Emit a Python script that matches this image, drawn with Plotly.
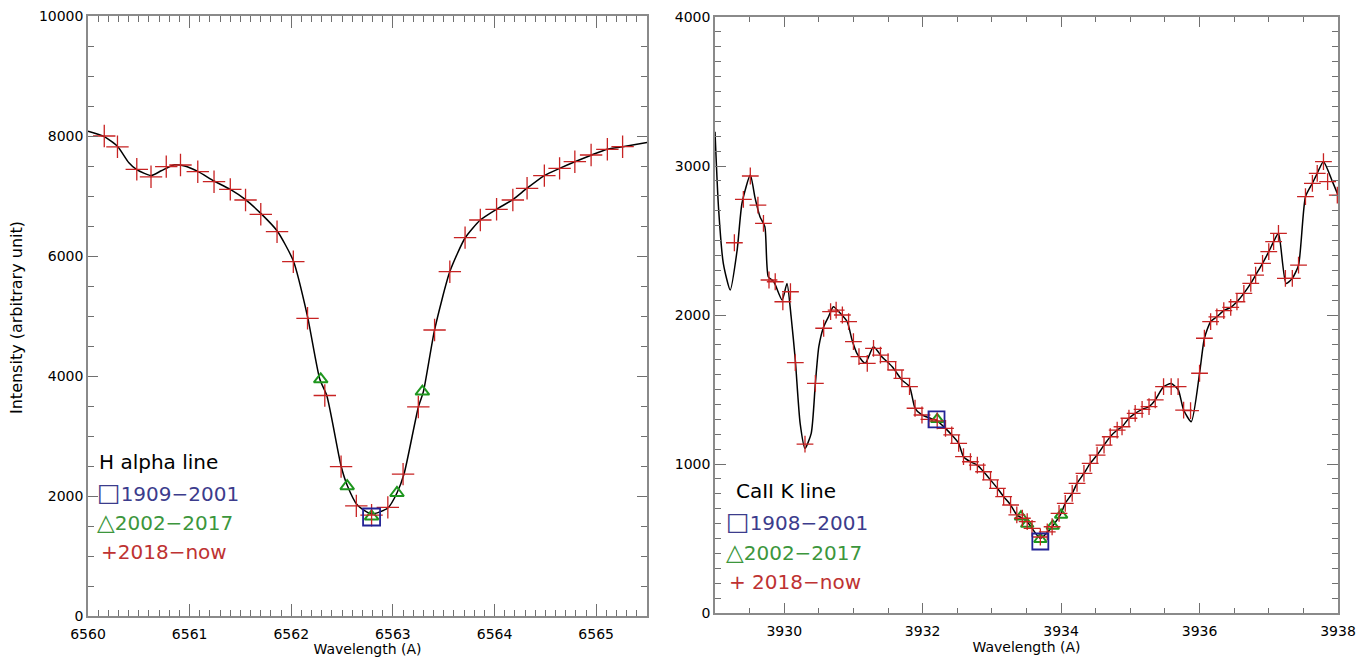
import plotly.graph_objects as go
from plotly.subplots import make_subplots

# ---- H alpha line (left panel) ----
ha_curve_x = [6560.00, 6560.16, 6560.29, 6560.40, 6560.48, 6560.62, 6560.72, 6560.85, 6560.95,
              6561.08, 6561.24, 6561.40, 6561.55, 6561.70, 6561.86, 6562.02, 6562.16, 6562.28,
              6562.35, 6562.49, 6562.55, 6562.65, 6562.79, 6562.95, 6563.04, 6563.11, 6563.25,
              6563.30, 6563.41, 6563.56, 6563.71, 6563.86, 6564.02, 6564.18, 6564.32, 6564.49,
              6564.64, 6564.79, 6564.95, 6565.11, 6565.26, 6565.50]
ha_curve_y = [8080, 7990, 7830, 7560, 7440, 7340, 7420, 7520, 7500,
              7410, 7250, 7110, 6940, 6710, 6420, 5920, 4990, 3950,
              3670, 2500, 2180, 1850, 1700, 1800, 2050, 2370, 3480,
              3740, 4770, 5740, 6300, 6600, 6780, 6940, 7130, 7340,
              7460, 7570, 7680, 7780, 7820, 7890]

ha_plus_x = [6560.16, 6560.29, 6560.48, 6560.62, 6560.77, 6560.91, 6561.08, 6561.24, 6561.40,
             6561.55, 6561.70, 6561.86, 6562.02, 6562.16, 6562.33, 6562.49, 6562.64, 6562.79,
             6562.95, 6563.10, 6563.25, 6563.41, 6563.56, 6563.71, 6563.86, 6564.02, 6564.18,
             6564.32, 6564.49, 6564.64, 6564.79, 6564.95, 6565.11, 6565.26]
ha_plus_y = [8000, 7820, 7445, 7320, 7490, 7517, 7405, 7238, 7111,
             6933, 6695, 6405, 5905, 4962, 3675, 2489, 1836, 1680,
             1810, 2364, 3484, 4767, 5738, 6306, 6600, 6778, 6933,
             7128, 7339, 7461, 7572, 7683, 7778, 7822]

ha_tri_x = [6562.29, 6562.55, 6562.79, 6563.04, 6563.29]
ha_tri_y = [3945, 2164, 1660, 2050, 3740]

ha_sq_x = [6562.79]
ha_sq_y = [1650]

# ---- CaII K line (right panel) ----
ca_curve_x = [3929.00, 3929.05, 3929.12, 3929.22, 3929.32, 3929.39, 3929.51, 3929.58, 3929.65,
              3929.72, 3929.77, 3929.85, 3929.97, 3930.04, 3930.10, 3930.16, 3930.23, 3930.30,
              3930.39, 3930.45, 3930.50, 3930.57, 3930.64, 3930.71, 3930.81, 3930.91, 3930.98,
              3931.05, 3931.17, 3931.29, 3931.41, 3931.56, 3931.70, 3931.81, 3931.89, 3931.99,
              3932.09, 3932.21, 3932.33, 3932.42, 3932.52, 3932.59, 3932.69, 3932.79, 3932.88,
              3932.98, 3933.08, 3933.17, 3933.27, 3933.36, 3933.44, 3933.51, 3933.58, 3933.70,
              3933.80, 3933.87, 3933.99, 3934.06, 3934.16, 3934.23, 3934.33, 3934.42, 3934.52,
              3934.62, 3934.71, 3934.81, 3934.88, 3934.98, 3935.07, 3935.17, 3935.27, 3935.36,
              3935.48, 3935.59, 3935.69, 3935.77, 3935.88, 3936.00, 3936.07, 3936.16, 3936.25,
              3936.35, 3936.45, 3936.54, 3936.64, 3936.74, 3936.81, 3936.91, 3937.00, 3937.07,
              3937.14, 3937.25, 3937.34, 3937.43, 3937.53, 3937.63, 3937.70, 3937.79, 3937.92,
              3938.00]
ca_curve_y = [3230, 2727, 2347, 2168, 2436, 2750, 2939, 2783, 2660,
              2593, 2257, 2223, 2100, 2212, 1988, 1698, 1273, 1105,
              1206, 1541, 1787, 1921, 1988, 2056, 2011, 1955, 1832,
              1743, 1676, 1787, 1720, 1653, 1564, 1519, 1374, 1329,
              1310, 1290, 1239, 1195, 1139, 1049, 1015, 993, 948,
              893, 837, 781, 725, 658, 636, 613, 568, 500,
              540, 579, 660, 736, 803, 870, 937, 1004, 1060,
              1127, 1183, 1228, 1250, 1307, 1340, 1367, 1385, 1430,
              1519, 1540, 1500, 1362, 1284, 1609, 1844, 1955, 1988,
              2029, 2051, 2089, 2145, 2212, 2268, 2347, 2425, 2492,
              2548, 2212, 2246, 2335, 2794, 2884, 2951, 3029, 2895,
              2805]

ca_plus_x = [3929.28, 3929.41, 3929.51, 3929.62, 3929.70, 3929.78, 3929.87, 3929.98, 3930.09,
             3930.16, 3930.30, 3930.45, 3930.57, 3930.67, 3930.75, 3930.84, 3930.93, 3931.00,
             3931.08, 3931.20, 3931.29, 3931.39, 3931.50, 3931.61, 3931.70, 3931.81, 3931.89,
             3931.99, 3932.09, 3932.21, 3932.33, 3932.42, 3932.52, 3932.59, 3932.69, 3932.79,
             3932.88, 3932.98, 3933.08, 3933.17, 3933.27, 3933.36, 3933.44, 3933.51, 3933.58,
             3933.70, 3933.80, 3933.87, 3933.97, 3934.06, 3934.16, 3934.23, 3934.33, 3934.42,
             3934.52, 3934.62, 3934.71, 3934.81, 3934.88, 3934.98, 3935.07, 3935.17, 3935.27,
             3935.36, 3935.48, 3935.59, 3935.69, 3935.77, 3935.87, 3936.00, 3936.07, 3936.16,
             3936.25, 3936.35, 3936.45, 3936.54, 3936.64, 3936.74, 3936.81, 3936.91, 3937.00,
             3937.07, 3937.14, 3937.24, 3937.34, 3937.43, 3937.53, 3937.63, 3937.70, 3937.79,
             3937.85, 3937.99]
ca_plus_y = [2485, 2776, 2933, 2738, 2615, 2235, 2223, 2089, 2156,
             1680, 1134, 1541, 1911, 2022, 2033, 2000, 1955, 1821,
             1720, 1676, 1776, 1731, 1687, 1631, 1575, 1519, 1374,
             1329, 1300, 1290, 1239, 1195, 1139, 1049, 1015, 993,
             948, 893, 837, 781, 725, 658, 636, 613, 568,
             510, 545, 579, 669, 736, 803, 870, 937, 1004,
             1060, 1127, 1183, 1228, 1250, 1307, 1340, 1367, 1385,
             1430, 1519, 1519, 1519, 1362, 1358, 1609, 1844, 1955,
             1988, 2029, 2051, 2089, 2145, 2212, 2268, 2347, 2425,
             2492, 2548, 2246, 2246, 2335, 2794, 2884, 2951, 3029,
             2895, 2805]

ca_tri_x = [3932.21, 3933.42, 3933.51, 3933.70, 3933.88, 3934.00]
ca_tri_y = [1300, 646, 597, 495, 584, 658]

ca_sq_x = [3932.20, 3933.70]
ca_sq_y = [1300, 480]

RED = "rgb(200,35,35)"
GREEN = "rgb(30,150,30)"
BLUE = "rgb(35,35,150)"
FONT = "DejaVu Sans"
TICKC = "#707070"

fig = make_subplots(rows=1, cols=2)

panels = [
    (1, ha_curve_x, ha_curve_y, ha_plus_x, ha_plus_y, ha_tri_x, ha_tri_y, ha_sq_x, ha_sq_y, 16, 12, 17),
    (2, ca_curve_x, ca_curve_y, ca_plus_x, ca_plus_y, ca_tri_x, ca_tri_y, ca_sq_x, ca_sq_y, 12, 11, 16),
]
for col, cx, cy, px, py, tx, ty, sx, sy, psize, tsize, ssize in panels:
    # smooth black profile
    fig.add_trace(go.Scatter(x=cx, y=cy, mode="lines",
                             line=dict(color="black", width=1.5, shape="spline", smoothing=0.6)),
                  row=1, col=col)
    # 2002-2017
    fig.add_trace(go.Scatter(x=tx, y=ty, mode="markers",
                             marker=dict(symbol="triangle-up-open", size=tsize, color=GREEN,
                                         line=dict(width=2, color=GREEN))),
                  row=1, col=col)
    # 2018-now
    fig.add_trace(go.Scatter(x=px, y=py, mode="markers",
                             marker=dict(symbol="cross-thin-open", size=psize, color=RED,
                                         line=dict(width=1.3, color=RED))),
                  row=1, col=col)
    # 1908/1909-2001
    fig.add_trace(go.Scatter(x=sx, y=sy, mode="markers",
                             marker=dict(symbol="square-open", size=ssize, color=BLUE,
                                         line=dict(width=1.8, color=BLUE))),
                  row=1, col=col)

axis_common = dict(showline=True, linecolor="#8a8a8a", linewidth=1.5, mirror="ticks",
                   ticks="inside", tickcolor=TICKC, showgrid=False, zeroline=False,
                   tickformat="d", tickfont=dict(family=FONT, size=14, color="black"),
                   automargin=False)

fig.update_xaxes(axis_common)
fig.update_yaxes(axis_common)
fig.update_xaxes(ticklabelstandoff=4)

title_font = dict(family=FONT, size=14, color="black")
fig.update_xaxes(row=1, col=1, range=[6560, 6565.5], domain=[88 / 1360, 647 / 1360],
                 tickvals=[6560, 6561, 6562, 6563, 6564, 6565], ticklen=12,
                 minor=dict(dtick=0.1, tick0=6560, ticklen=6, ticks="inside", tickcolor=TICKC),
                 title=dict(text="Wavelength (A)", font=title_font, standoff=2))
fig.update_yaxes(row=1, col=1, range=[0, 10000], domain=[41 / 657, 641 / 657],
                 tickvals=[0, 2000, 4000, 6000, 8000, 10000], ticklen=10,
                 minor=dict(dtick=500, ticklen=6, ticks="inside", tickcolor=TICKC))
fig.update_xaxes(row=1, col=2, range=[3929, 3938], domain=[715 / 1360, 1338 / 1360],
                 tickvals=[3930, 3932, 3934, 3936, 3938], ticklen=10,
                 minor=dict(dtick=0.5, tick0=3929, ticklen=5, ticks="inside", tickcolor=TICKC),
                 title=dict(text="Wavelength (A)", font=title_font, standoff=2))
fig.update_yaxes(row=1, col=2, range=[0, 4000], domain=[44 / 657, 640 / 657],
                 tickvals=[0, 1000, 2000, 3000, 4000], ticklen=11,
                 minor=dict(dtick=100, ticklen=6, ticks="inside", tickcolor=TICKC))


def px_x(p):
    return p / 1360


def px_y(p):
    return (657 - p) / 657


def sym(ch, size=25):
    return f"<span style='font-size:{size}px'>{ch}</span>"


annotations = [
    dict(text="Intensity (arbitrary unit)", x=px_x(16), y=px_y(318), textangle=-90,
         xanchor="center", font=dict(family=FONT, size=16, color="black")),
    dict(text="H alpha line", x=px_x(97), y=px_y(462), xanchor="left",
         font=dict(family=FONT, size=20, color="black")),
    dict(text=sym("\u25a1") + "1909\u22122001", x=px_x(95), y=px_y(492), xanchor="left",
         font=dict(family=FONT, size=20, color="rgb(60,60,140)")),
    dict(text=sym("\u25b3", 23) + "2002\u22122017", x=px_x(95), y=px_y(522), xanchor="left",
         font=dict(family=FONT, size=20, color="rgb(60,150,60)")),
    dict(text="+2018\u2212now", x=px_x(99), y=px_y(552), xanchor="left",
         font=dict(family=FONT, size=20, color="rgb(190,50,50)")),
    dict(text="CaII K line", x=px_x(734), y=px_y(491), xanchor="left",
         font=dict(family=FONT, size=20, color="black")),
    dict(text=sym("\u25a1") + "1908\u22122001", x=px_x(724), y=px_y(521), xanchor="left",
         font=dict(family=FONT, size=20, color="rgb(60,60,140)")),
    dict(text=sym("\u25b3", 23) + "2002\u22122017", x=px_x(724), y=px_y(552), xanchor="left",
         font=dict(family=FONT, size=20, color="rgb(60,150,60)")),
    dict(text="+ 2018\u2212now", x=px_x(727), y=px_y(582), xanchor="left",
         font=dict(family=FONT, size=20, color="rgb(190,50,50)")),
]
for a in annotations:
    a.update(xref="paper", yref="paper", showarrow=False, yanchor="middle")
    fig.add_annotation(**a)

fig.update_layout(
    width=1360, height=657,
    margin=dict(l=0, r=0, t=0, b=0),
    paper_bgcolor="white", plot_bgcolor="white",
    showlegend=False,
    font=dict(family=FONT),
)

fig.write_html("out.html", config={"displayModeBar": False},
               post_script="document.body.style.margin='0';")
